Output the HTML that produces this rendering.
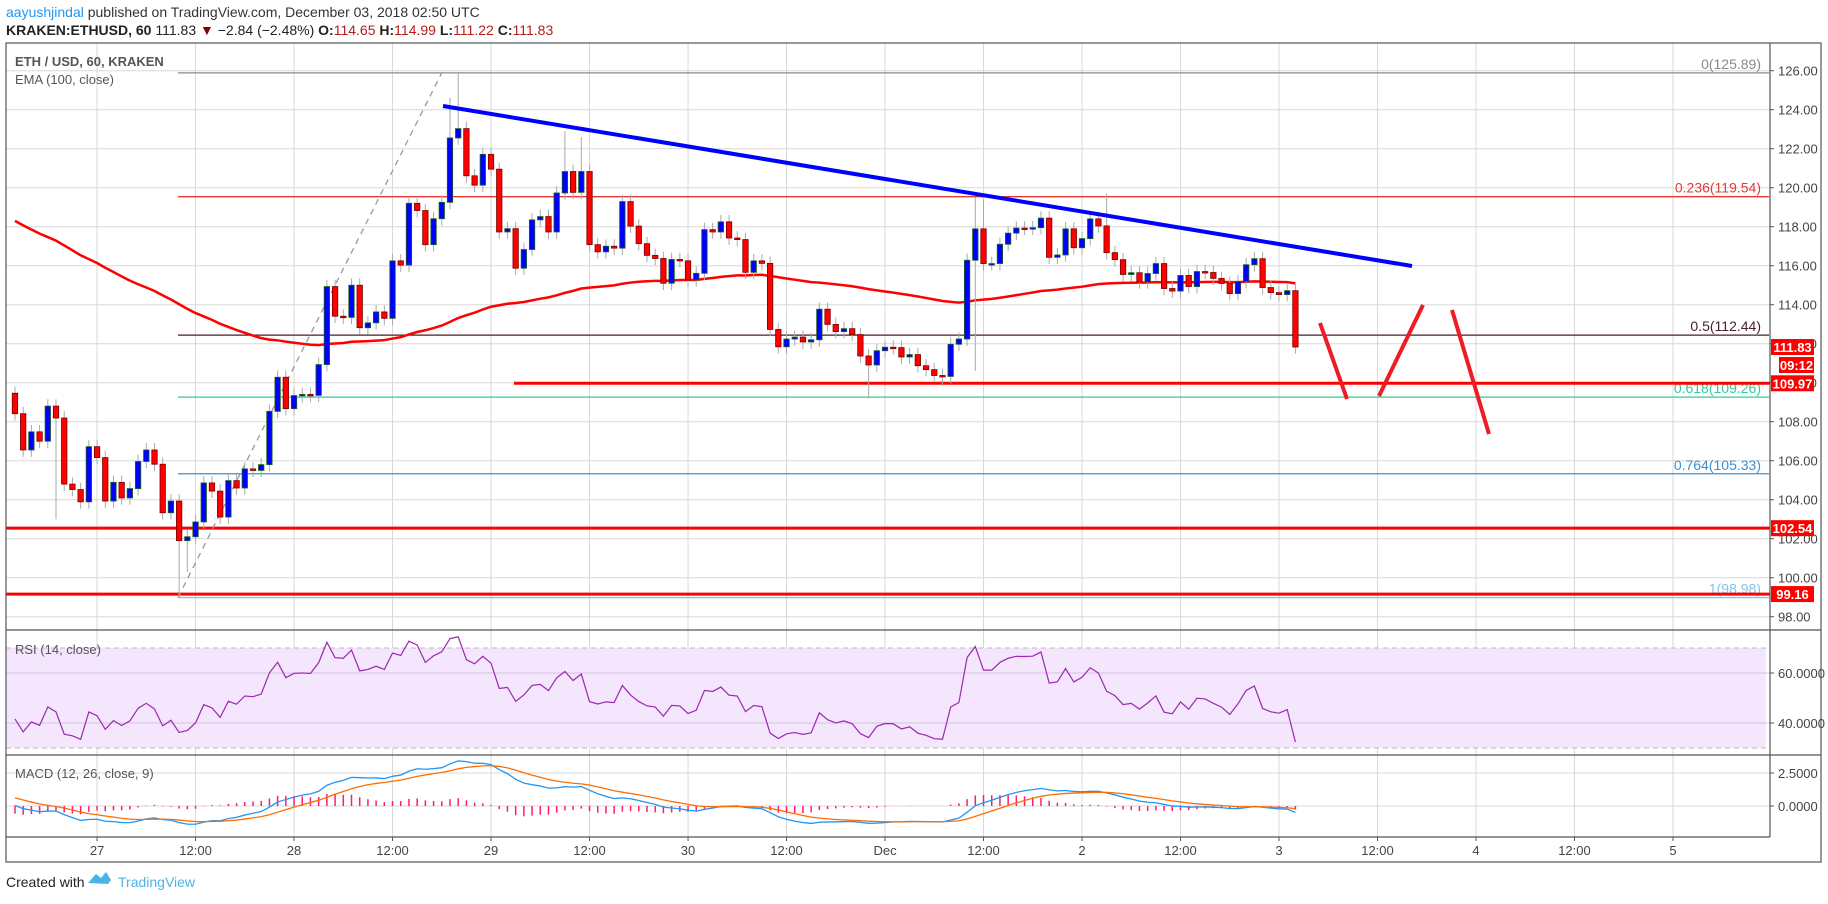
<!DOCTYPE html>
<html><head><meta charset="utf-8">
<style>
html,body{margin:0;padding:0;background:#fff;}
body{width:1828px;height:899px;overflow:hidden;font-family:"Liberation Sans",sans-serif;}
svg text{font-family:"Liberation Sans",sans-serif;}
</style></head>
<body>
<svg id="chart" width="1828" height="899" viewBox="0 0 1828 899" xmlns="http://www.w3.org/2000/svg">
<text x="6" y="17" font-size="14" fill="#333"><tspan fill="#2196f3">aayushjindal</tspan> published on TradingView.com, December 03, 2018 02:50 UTC</text>
<text x="6" y="35" font-size="14" fill="#222"><tspan font-weight="bold">KRAKEN:ETHUSD, 60</tspan> 111.83 <tspan fill="#8b0000">▼</tspan> −2.84 (−2.48%) <tspan font-weight="bold">O:</tspan><tspan fill="#b71c1c">114.65</tspan> <tspan font-weight="bold">H:</tspan><tspan fill="#b71c1c">114.99</tspan> <tspan font-weight="bold">L:</tspan><tspan fill="#b71c1c">111.22</tspan> <tspan font-weight="bold">C:</tspan><tspan fill="#b71c1c">111.83</tspan></text>
<g id="grid"></g>
<g id="rsiBg"></g>
<g id="overlays"></g>
<g id="candles"></g>
<g id="indicators"></g>
<g id="drawings"></g>
<g id="frame"></g>
<g id="axes"></g>
<text x="15" y="654" font-size="13" fill="#555">RSI (14, close)</text>
<text x="15" y="778" font-size="13" fill="#555">MACD (12, 26, close, 9)</text>
<text x="15" y="66" font-size="13" font-weight="bold" fill="#555">ETH / USD, 60, KRAKEN</text>
<text x="15" y="84" font-size="13" fill="#555">EMA (100, close)</text>
<text x="6" y="887" font-size="14" fill="#222">Created with</text>
<g>
<path d="M88 883 L96 874 L101 878 L106 872 L111 880 L108 884 Z" fill="#4bb3e6"/>
<text x="118" y="887" font-size="14" fill="#4bb3e6">TradingView</text>
</g>
</svg>
<script>
// ---- data ----
const firstOpen = 109.46;
const closes = [
108.41,106.55,107.48,107.0,108.8,108.19,104.8,104.52,103.89,106.72,
106.16,103.93,104.89,104.09,104.57,105.96,106.55,105.82,103.33,103.93,
101.9,102.1,102.86,104.86,104.44,103.11,104.98,104.6,105.58,105.5,
105.8,108.53,110.28,108.67,109.34,109.4,109.35,110.93,114.93,113.41,
113.35,115.0,112.82,113.07,113.63,113.3,116.25,116.03,119.2,118.83,
117.08,118.41,119.25,122.55,123.03,120.61,120.13,121.71,120.95,117.73,
117.9,115.87,116.83,118.35,118.52,117.73,119.73,120.83,119.76,120.83,
117.08,116.71,117.0,116.9,119.29,118.03,117.13,116.53,116.37,115.1,
116.32,116.25,115.27,115.61,117.85,117.73,118.25,117.42,117.34,115.66,
116.25,116.12,112.73,111.84,112.24,112.34,112.09,112.2,113.77,112.99,
112.62,112.77,112.47,111.37,110.91,111.64,111.82,111.8,111.32,111.44,
110.87,110.67,110.37,110.32,111.97,112.24,116.28,117.89,116.11,116.11,
117.1,117.67,117.93,117.92,117.95,118.44,116.43,116.55,117.89,116.92,
117.39,118.4,118.04,116.67,116.31,115.55,115.64,115.17,115.6,116.11,
114.83,114.7,115.5,114.93,115.7,115.65,115.35,115.09,114.57,115.19,
116.05,116.36,114.88,114.62,114.52,114.72,111.83];
const highOverrides = {54:125.89, 53:124.6, 67:122.9, 69:122.6, 117:119.5, 118:119.4, 133:119.7};
const lowOverrides = {20:98.98, 21:100.3, 104:109.2, 117:110.6, 113:109.8, 5:103};
const priceTicks = [98,100,102,104,106,108,110,112,114,116,118,120,122,124,126];
const fibLevels = ["0","0.236","0.5","0.618","0.764","1"];
const fibPrices = [125.89,119.54,112.44,109.26,105.33,98.98];
const hLinePrices = [109.97,102.54,99.16];
const timeLabels = ["27","12:00","28","12:00","29","12:00","30","12:00","Dec","12:00","2","12:00","3","12:00","4","12:00","5"];
const timeLabelIdx = [10,22,34,46,58,70,82,94,106,118,130,142,154,166,178,190,202];
const rsiTicks = [60,40];
const macdTicks = [2.5,0];
const emaSeed = 118.5;

// ---- scales ----
const NS="http://www.w3.org/2000/svg";
const AX=1770, LEFT=6;
const xAt=i=>1279+(i-154)*8.208;
const yP=p=>70.7+(126-p)*19.5;
const yR=v=>648+(70-v)*2.5;
const yM=v=>806+(-v)*13.2;
function mk(tag,attrs,parent){const e=document.createElementNS(NS,tag);for(const k in attrs)e.setAttribute(k,attrs[k]);parent.appendChild(e);return e;}
const G=id=>document.getElementById(id);

// grid
const grid=G('grid');
for(let k=0;k<timeLabelIdx.length;k++){const x=xAt(timeLabelIdx[k]);if(x>AX)continue;
 const l=mk('line',{x1:x,x2:x,y1:43,y2:837,stroke:'#d8d8d8','stroke-width':1},grid);
 
 }
{const x=xAt(-2);mk('line',{x1:x,x2:x,y1:43,y2:837,stroke:'#d8d8d8'},grid);}
priceTicks.forEach(p=>{const y=yP(p);
 const l=mk('line',{x1:LEFT,x2:AX,y1:y,y2:y,stroke:'#d8d8d8'},grid);
 
 });
macdTicks.forEach(v=>{mk('line',{x1:LEFT,x2:AX,y1:yM(v),y2:yM(v),stroke:'#d8d8d8'},grid);});

// RSI background
const rb=G('rsiBg');
const band=mk('rect',{x:LEFT,y:yR(70),width:AX-LEFT-4,height:yR(30)-yR(70),fill:'#f3e6fd'},rb);


rsiTicks.forEach(v=>mk('line',{x1:LEFT,x2:AX,y1:yR(v),y2:yR(v),stroke:'#d5c2e0'},rb));
[70,30].forEach(v=>mk('line',{x1:LEFT,x2:AX-4,y1:yR(v),y2:yR(v),stroke:'#bbb','stroke-dasharray':'5,4'},rb));

// overlays: fib + horizontal lines
const ov=G('overlays');
const fibColors=['#888','#e53935','#4a1c2c','#2ecc9a','#3d8fd1','#7fc4ee'];
fibPrices.forEach((p,i)=>{const y=yP(p);
 const l=mk('line',{x1:178,x2:1769,y1:y,y2:y,stroke:fibColors[i],'stroke-width':1.3},ov);
 
 
 const t=mk('text',{x:1761,y:y-4,'text-anchor':'end','font-size':14,fill:fibColors[i]},ov);
 t.textContent=fibLevels[i]+'('+p.toFixed(2)+')';
 
 });
const hStart=[514,LEFT,LEFT];
hLinePrices.forEach((p,i)=>{const y=yP(p);
 const l=mk('line',{x1:hStart[i],x2:AX,y1:y,y2:y,stroke:'#ff0000','stroke-width':3},ov);
 
 });
// fib trend (dashed)
{const l=mk('line',{x1:178,y1:yP(98.98),x2:xAt(52),y2:yP(125.89),stroke:'#999','stroke-width':1.3,'stroke-dasharray':'6,5'},ov);
 
 }

// EMA
const ema=[];let e=emaSeed;const a=2/101;
closes.forEach(c=>{e=e+a*(c-e);ema.push(e);});
const emaPts=ema.map((v,i)=>xAt(i)+','+yP(v)).join(' ');
{const pl=mk('polyline',{points:emaPts,fill:'none',stroke:'#ff0000','stroke-width':2.5},G('overlays'));
 
 }

// candles
const cg=G('candles');
closes.forEach((c,i)=>{const o=i===0?firstOpen:closes[i-1];
 let h=Math.max(o,c)+0.35, lo=Math.min(o,c)-0.35;
 if(highOverrides[i]!==undefined)h=highOverrides[i];
 if(lowOverrides[i]!==undefined)lo=lowOverrides[i];
 const x=xAt(i);const up=c>=o;
 const w=mk('line',{x1:x,x2:x,y1:yP(h),y2:yP(lo),stroke:'#aaa','stroke-width':1},cg);
 
 
 const top=yP(Math.max(o,c)),bot=yP(Math.min(o,c));
 const r=mk('rect',{x:x-2.7,y:top,width:5.4,height:Math.max(1.5,bot-top),fill:up?'#0000ff':'#ff0000',stroke:up?'#1b5e20':'#7a0000','stroke-width':0.8},cg);
 
 });

// RSI
const rsi=[];let ag=0.45,al=0.55,prev=firstOpen;
closes.forEach(c=>{const d=c-prev;prev=c;ag=(ag*13+Math.max(d,0))/14;al=(al*13+Math.max(-d,0))/14;rsi.push(100-100/(1+ag/al));});
const ind=G('indicators');
{const pl=mk('polyline',{points:rsi.map((v,i)=>xAt(i)+','+yR(v)).join(' '),fill:'none',stroke:'#9c27b0','stroke-width':1.2},ind);
 
 }

// MACD
const macd=[],sig=[];let e12=closes[0]+1.3,e26=closes[0]+1.15,s=0.76;
closes.forEach(c=>{e12+=2/13*(c-e12);e26+=2/27*(c-e26);const m=e12-e26;s+=0.2*(m-s);macd.push(m);sig.push(s);});
macd.forEach((m,i)=>{const d=m-sig[i];const b=mk('line',{x1:xAt(i),x2:xAt(i),y1:yM(0),y2:yM(d),stroke:'#ff1a75','stroke-width':1.5},ind);
 
 });
{const pl=mk('polyline',{points:macd.map((v,i)=>xAt(i)+','+yM(v)).join(' '),fill:'none',stroke:'#2196f3','stroke-width':1.3},ind);
 
 
 const ps=mk('polyline',{points:sig.map((v,i)=>xAt(i)+','+yM(v)).join(' '),fill:'none',stroke:'#ff6d00','stroke-width':1.3},ind);
 
 }

// drawings
const dr=G('drawings');
{const l=mk('line',{x1:443,y1:106,x2:1412,y2:266,stroke:'#0000ff','stroke-width':4},dr);
 
 }
[[1320,323,1347,399],[1379,396,1423,305],[1452,310,1489,434]].forEach(s=>{
 const l=mk('line',{x1:s[0],y1:s[1],x2:s[2],y2:s[3],stroke:'#ee1c25','stroke-width':4},dr);
 
 });

// frame
const fr=G('frame');
mk('rect',{x:LEFT,y:43,width:1821-LEFT,height:862-43,fill:'none',stroke:'#555','stroke-width':1.2},fr);
mk('line',{x1:AX,x2:AX,y1:43,y2:837,stroke:'#555','stroke-width':1.2},fr);
[630,755].forEach(y=>mk('line',{x1:LEFT,x2:1821,y1:y,y2:y,stroke:'#555','stroke-width':1.2},fr));
mk('line',{x1:LEFT,x2:AX,y1:837,y2:837,stroke:'#555','stroke-width':1.2},fr);

// axes
const axg=G('axes');
priceTicks.forEach(p=>{const y=yP(p);mk('line',{x1:AX,x2:AX+4,y1:y,y2:y,stroke:'#555'},axg);
 const t=mk('text',{x:1778,y:y+5,'font-size':13,fill:'#444'},axg);t.textContent=p.toFixed(2);
 
 });
rsiTicks.forEach(v=>{const y=yR(v);mk('line',{x1:AX,x2:AX+4,y1:y,y2:y,stroke:'#555'},axg);
 const t=mk('text',{x:1778,y:y+5,'font-size':13,fill:'#444'},axg);t.textContent=v.toFixed(4);
 
 });
macdTicks.forEach(v=>{const y=yM(v);mk('line',{x1:AX,x2:AX+4,y1:y,y2:y,stroke:'#555'},axg);
 const t=mk('text',{x:1778,y:y+5,'font-size':13,fill:'#444'},axg);t.textContent=v.toFixed(4);
 
 });
timeLabels.forEach((lab,k)=>{const x=xAt(timeLabelIdx[k]);
 mk('line',{x1:x,x2:x,y1:837,y2:841,stroke:'#555'},axg);
 const t=mk('text',{x:x,y:855,'font-size':13,fill:'#444','text-anchor':'middle'},axg);t.textContent=lab;
 
 });
// badges
const badges=[[closes[closes.length-1].toFixed(2),yP(closes[closes.length-1]),1771],['09:12',yP(closes[closes.length-1])+18,1779]];
hLinePrices.forEach(p=>badges.push([p.toFixed(2),yP(p),1771]));
badges.forEach(b=>{const r=mk('rect',{x:b[2],y:b[1]-8,width:1814-b[2],height:16,fill:'#ff0000'},axg);
 
 
 const t=mk('text',{x:(b[2]+1814)/2,y:b[1]+5,'font-size':13,'font-weight':'bold',fill:'#fff','text-anchor':'middle'},axg);t.textContent=b[0];});
</script>
</body></html>
